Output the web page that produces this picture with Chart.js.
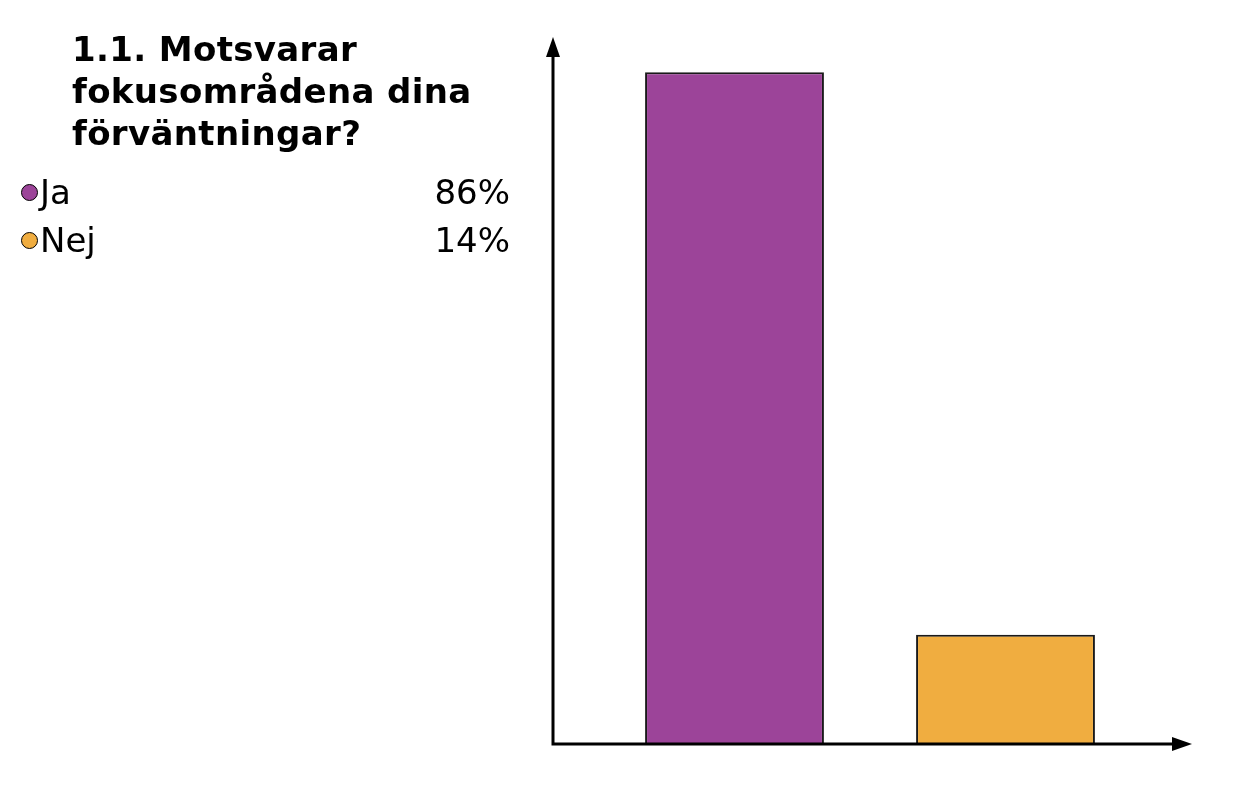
<!DOCTYPE html>
<html>
<head>
<meta charset="utf-8">
<script src="https://cdn.jsdelivr.net/npm/chart.js@4/dist/chart.umd.min.js"></script>
<style>
  html, body { margin: 0; padding: 0; background: #fff; }
  body { width: 1254px; height: 786px; position: relative; overflow: hidden; font-family: 'DejaVu Sans', Verdana, sans-serif; }
  #title { position: absolute; left: 72px; top: 28px; font-weight: bold; font-size: 34px; line-height: 42px; letter-spacing: 0.35px; color: #000; }
  #legend { position: absolute; left: 21px; top: 168px; width: 489px; font-size: 34px; line-height: 48px; color: #000; }
  .row { display: flex; align-items: center; }
  .dot { width: 17px; height: 17px; border-radius: 50%; border: 1.5px solid #000; box-sizing: border-box; margin-right: 2px; }
  .name { flex: 1; }
  #wrap { position: absolute; left: 0; top: 0; width: 1254px; height: 786px; }
</style>
</head>
<body>
<div id="wrap"><canvas id="chart"></canvas></div>
<div id="title"></div>
<div id="legend"></div>
<script>
const titleLines = ['1.1. Motsvarar', 'fokusområdena dina', 'förväntningar?']
const categories = ['Ja', 'Nej']
const percents = [86, 14]
const colors = ['#9c4499', '#f0ad40']

document.querySelector('#title').innerHTML = titleLines.join('<br>')
const legend = document.querySelector('#legend')
categories.forEach((c, i) => {
  const row = document.createElement('div')
  row.className = 'row'
  row.innerHTML = `<span class="dot" style="background:${colors[i]}"></span><span class="name">${c}</span><span>${percents[i]}%</span>`
  legend.appendChild(row)
})

// axis lines with arrow heads, drawn a bit outside the plot area like the original
const arrowAxes = {
  id: 'arrowAxes',
  afterDraw (chart) {
    const { ctx, chartArea: a } = chart
    const x0 = a.left - 46
    const y0 = a.bottom
    const yTop = a.top - 4
    const xEnd = a.right + 51
    ctx.save()
    ctx.strokeStyle = '#000'
    ctx.fillStyle = '#000'
    ctx.lineWidth = 3
    ctx.beginPath()
    ctx.moveTo(x0, yTop + 15)
    ctx.lineTo(x0, y0)
    ctx.lineTo(xEnd - 16, y0)
    ctx.stroke()
    ctx.beginPath()
    ctx.moveTo(x0, yTop)
    ctx.lineTo(x0 - 7, yTop + 20)
    ctx.lineTo(x0 + 7, yTop + 20)
    ctx.closePath()
    ctx.fill()
    ctx.beginPath()
    ctx.moveTo(xEnd, y0)
    ctx.lineTo(xEnd - 20, y0 - 7)
    ctx.lineTo(xEnd - 20, y0 + 7)
    ctx.closePath()
    ctx.fill()
    ctx.restore()
  }
}

new Chart(document.querySelector('#chart'), {
  type: 'bar',
  data: {
    labels: categories,
    datasets: [{
      data: percents,
      backgroundColor: colors,
      borderColor: '#1a1a1a',
      borderWidth: 2,
      barPercentage: 0.66,
      categoryPercentage: 1
    }]
  },
  options: {
    responsive: true,
    maintainAspectRatio: false,
    animation: false,
    layout: { padding: { left: 599, right: 113, top: 41, bottom: 42 } },
    plugins: { legend: { display: false }, tooltip: { enabled: false } },
    scales: {
      x: { display: false },
      y: { display: false, min: 0, max: 90 }
    }
  },
  plugins: [arrowAxes]
})
</script>
</body>
</html>
